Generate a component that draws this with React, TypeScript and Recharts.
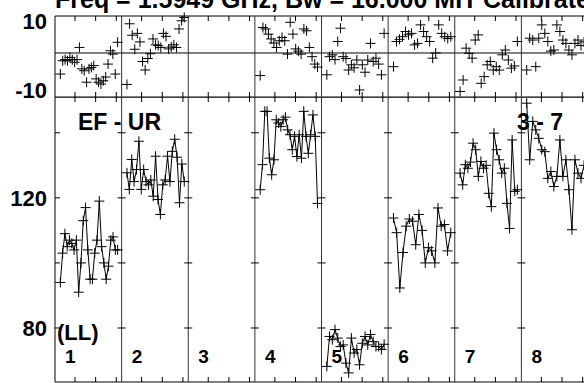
import React from "react";
import { ComposedChart, Line, Scatter, XAxis, YAxis, ReferenceLine } from "recharts";

// baseline numbers along the bottom, one column each
const BASELINES = ["1", "2", "3", "4", "5", "6", "7", "8"];

// amplitude (lower panel), column by column
const AMP_1 = [94, 103, 109, 105, 107, 106, 104, 107, 91, 100, 113, 117, 104, 95, 95, 103, 107, 119, 105, 100, 95, 99, 107, 108, 104, 104];
const AMP_2 = [127.7, 122.6, 131.8, 125, 128.7, 137.4, 122.6, 128.7, 125, 124, 125.5, 120.5, 132.8, 119.5, 114.9, 124, 125.5, 132.8, 125, 134.3, 138, 132.5, 118.5, 130.4, 125];
const AMP_3: number[] = [];
const AMP_4 = [122.5, 130.2, 146.6, 146.6, 132.2, 127.1, 131.7, 144, 143, 141.9, 144, 144.8, 140.9, 139.4, 134.8, 138.9, 132.7, 139.4, 132.2, 146.6, 138.9, 133.7, 139.4, 145.5, 138.9, 118.3];
const AMP_5 = [68.2, 77.4, 76.4, 79.5, 76.9, 74.3, 74.8, 69.2, 66.2, 76.9, 72.3, 73.4, 68.7, 75.3, 77.4, 74.8, 78, 75.8, 74.3, 74.3, 73.4, 75];
const AMP_6 = [113.8, 109.3, 92.3, 103.2, 111.3, 113.5, 112.8, 105.6, 114.9, 110, 100, 104.7, 103.7, 100, 116.9, 111.3, 111.8, 103.7, 109.3];
const AMP_7 = [127.6, 124, 130.2, 129.1, 131, 136.8, 134.8, 126.6, 131.2, 129.1, 130, 121.4, 117.3, 139.9, 134.8, 131.7, 127.6, 129.1, 118.3, 110.6, 137.8, 122, 122.5];
const AMP_8 = [149.1, 131.7, 143.5, 140.9, 138.3, 134.8, 134.2, 126, 128.1, 123.5, 126.6, 137.8, 126.6, 131.7, 122.5, 110.2, 131.7, 127.6, 126, 130];

// phase (upper panel)
const PH_1 = [-5.7, -2.1, -1.8, -2.1, -1.2, -1.8, -2.5, -1.8, 1.5, -4.3, -4.8, -7.9, -4.3, -3.9, -3.4, -7, -7.9, -8.4, -7.5, -6.5, -3, 0.6, -0.3, -5.7, 2.9];
const PH_2 = [-8.5, 7.9, 4.8, 1.0, 5.3, 3.0, -2.3, -4.6, -1.5, -0.2, 3.8, 2.2, 2.0, 1.5, 5.3, 4.5, 1.1, 1.6, 2.2, 1.5, 6.5, 8.7, 9.6];
const PH_3: number[] = [];
const PH_4 = [-6.1, 6.9, 6.5, 5.1, 3.8, 2.7, 1.5, 3.3, 4.2, 3.3, -0.3, 8.3, 5.1, 1.1, 0.5, -0.3, 6.5, 6.0, 1.5, -1.0, -3.0, -3.8];
const PH_5 = [-5.9, -1.0, -0.5, -1.8, 3.1, 6.7, -1.0, -1.5, -4.6, -3.2, -4.0, -1.9, -10.0, -3.2, -5.2, -1.9, 2.6, -2.3, -1.4, -3.0, -5.9, 5.3];
const PH_6 = [-3.7, 3.1, 3.7, 4.4, 5.8, 4.9, 5.3, 2.2, 2.6, 7.6, 5.8, 4.4, 3.1, -1.4, 0.0, 7.6, 5.3, 4.4, 3.9, 4.4];
const PH_7 = [-10.4, -7.3, 1.3, -0.1, -1.4, 3.5, 4.9, -8.2, -6.4, -3.2, -2.3, -4.6, -3.7, -4.6, -0.5, 0.8, -1.9, -4.1, -3.5, 3.1];
const PH_8 = [-4.6, 4.0, 3.5, -3.7, 4.0, 7.6, 5.3, 3.1, 0.5, 0.8, 7.6, 5.8, 3.5, 2.6, 0.8, -0.5, 2.6, 3.5, 2.0, 3.0];

const AMPS = [AMP_1, AMP_2, AMP_3, AMP_4, AMP_5, AMP_6, AMP_7, AMP_8];
const PHASES = [PH_1, PH_2, PH_3, PH_4, PH_5, PH_6, PH_7, PH_8];

const AMP_DOMAIN: [number, number] = [63.4, 151];
const PHASE_DOMAIN: [number, number] = [-11.9, 10];
const AMP_TICKS = [140, 120, 100, 80];
const AMP_LABELS = [120, 80];
const PHASE_TICKS = [10, -10];
const MINOR_TICKS = [0.3, 0.61, 0.92];

const NCOL = BASELINES.length;
const W = 600; // wider than the window: right edge of last column is cut like in the reference
const YW = 55;
const COLW = (W - 12 - YW) / NCOL;
const FONT = "'Liberation Sans', Arial, Helvetica, sans-serif";

// spread a column's samples across its time slot
const spread = (vals: number[], col: number) =>
  vals.map((v, i) => ({ x: col + 0.08 + (vals.length > 1 ? (i * 0.86) / (vals.length - 1) : 0), y: v }));

const sepTicks = (vals: number[]) =>
  BASELINES.slice(1).flatMap((_, c) => vals.map((v) => ({ x: c + 1, y: v })));
const edgeTicks = (vals: number[]) => vals.map((v) => ({ x: 0, y: v }));
const minorTicks = (y: number) =>
  BASELINES.flatMap((_, c) => MINOR_TICKS.map((f) => ({ x: c + f, y })));

function Cross(props: any) {
  const { cx, cy } = props;
  if (cx == null || cy == null || isNaN(cy)) return null;
  return (
    <path d={`M${cx - 5},${cy}H${cx + 5}M${cx},${cy - 5}V${cy + 5}`} stroke="#000" strokeWidth={1} fill="none" />
  );
}

const vTick = (dir: number) => (p: any) =>
  <line x1={p.cx} x2={p.cx} y1={p.cy} y2={p.cy + dir * 5} stroke="#000" strokeWidth={1} />;
const hTick = (p: any) => <line x1={p.cx - 4} x2={p.cx + 4} y1={p.cy} y2={p.cy} stroke="#000" strokeWidth={1} />;
const hTickIn = (p: any) => <line x1={p.cx} x2={p.cx + 5} y1={p.cy} y2={p.cy} stroke="#000" strokeWidth={1} />;

const PhaseTick = (p: any) => (
  <text x={p.x} y={p.y + (p.payload.value > 0 ? 5 : 0)} dy="0.355em" textAnchor="end"
    fontSize={22} fontWeight="bold" fill="#000" fontFamily={FONT}>{p.payload.value}</text>
);
const AmpTick = (p: any) => (
  <text x={p.x} y={p.y} dy="0.355em" textAnchor="end"
    fontSize={22} fontWeight="bold" fill="#000" fontFamily={FONT}>
    {AMP_LABELS.includes(p.payload.value) ? p.payload.value : ""}
  </text>
);

export default function App() {
  const seps = BASELINES.slice(1).map((_, c) => c + 1);
  return (
    <div style={{ position: "absolute", left: 0, top: 0, width: 584, height: 383, overflow: "hidden", background: "#fff", fontFamily: FONT }}>
      <div style={{ position: "absolute", left: 0, top: 0 }}>
        <ComposedChart width={W} height={112} margin={{ top: 16, right: 12, bottom: 15, left: 0 }}>
          <XAxis dataKey="x" type="number" domain={[0, NCOL]} hide />
          <YAxis dataKey="y" type="number" domain={PHASE_DOMAIN} ticks={PHASE_TICKS} width={YW}
            axisLine={false} tickLine={false} tick={PhaseTick} interval={0} />
          <ReferenceLine y={PHASE_DOMAIN[1]} stroke="#000" />
          <ReferenceLine y={PHASE_DOMAIN[0]} stroke="#000" />
          <ReferenceLine x={0} stroke="#000" />
          <ReferenceLine y={0} stroke="#000" />
          {seps.map((s) => <ReferenceLine key={s} x={s} stroke="#333" />)}
          <Scatter data={minorTicks(PHASE_DOMAIN[1])} dataKey="y" shape={vTick(1)} isAnimationActive={false} />
          <Scatter data={minorTicks(PHASE_DOMAIN[0])} dataKey="y" shape={vTick(-1)} isAnimationActive={false} />
          {PHASES.map((ph, c) => (
            <Scatter key={c} data={spread(ph, c)} dataKey="y" shape={Cross} isAnimationActive={false} />
          ))}
        </ComposedChart>
      </div>
      <div style={{ position: "absolute", left: 0, top: 97 }}>
        <ComposedChart width={W} height={286} margin={{ top: 0, right: 12, bottom: 1, left: 0 }}>
          <XAxis dataKey="x" type="number" domain={[0, NCOL]} hide />
          <YAxis dataKey="y" type="number" domain={AMP_DOMAIN} ticks={AMP_TICKS} width={YW}
            axisLine={false} tickLine={false} tick={AmpTick} interval={0} />
          <ReferenceLine y={AMP_DOMAIN[1]} stroke="#000" />
          <ReferenceLine y={AMP_DOMAIN[0]} stroke="#000" />
          <ReferenceLine x={0} stroke="#000" />
          {seps.map((s) => <ReferenceLine key={s} x={s} stroke="#333" />)}
          <Scatter data={minorTicks(AMP_DOMAIN[1])} dataKey="y" shape={vTick(1)} isAnimationActive={false} />
          <Scatter data={minorTicks(AMP_DOMAIN[0])} dataKey="y" shape={vTick(-1)} isAnimationActive={false} />
          <Scatter data={sepTicks(AMP_TICKS)} dataKey="y" shape={hTick} isAnimationActive={false} />
          <Scatter data={edgeTicks(AMP_TICKS)} dataKey="y" shape={hTickIn} isAnimationActive={false} />
          {AMPS.map((a, c) => (
            <Line key={c} data={spread(a, c)} dataKey="y" stroke="#000" strokeWidth={1}
              dot={(p: any) => <Cross key={p.index} {...p} />} activeDot={false} isAnimationActive={false} />
          ))}
        </ComposedChart>
      </div>
      <svg width={584} height={383} style={{ position: "absolute", left: 0, top: 0, pointerEvents: "none" }}
        fontFamily={FONT} fontWeight="bold" fill="#000">
        <text x={55} y={8} fontSize={25}>Freq = 1.5949 GHz, Bw = 16.000 MH</text>
        <text x={483} y={8} fontSize={25}>Calibrated</text>
        <text x={78} y={130} fontSize={23}>EF - UR</text>
        <text x={517} y={130} fontSize={23}>3 - 7</text>
        <text x={57} y={340} fontSize={22}>(LL)</text>
        {BASELINES.map((b, c) => (
          <text key={b} x={YW + c * COLW + 10} y={363} fontSize={19}>{b}</text>
        ))}
      </svg>
    </div>
  );
}
